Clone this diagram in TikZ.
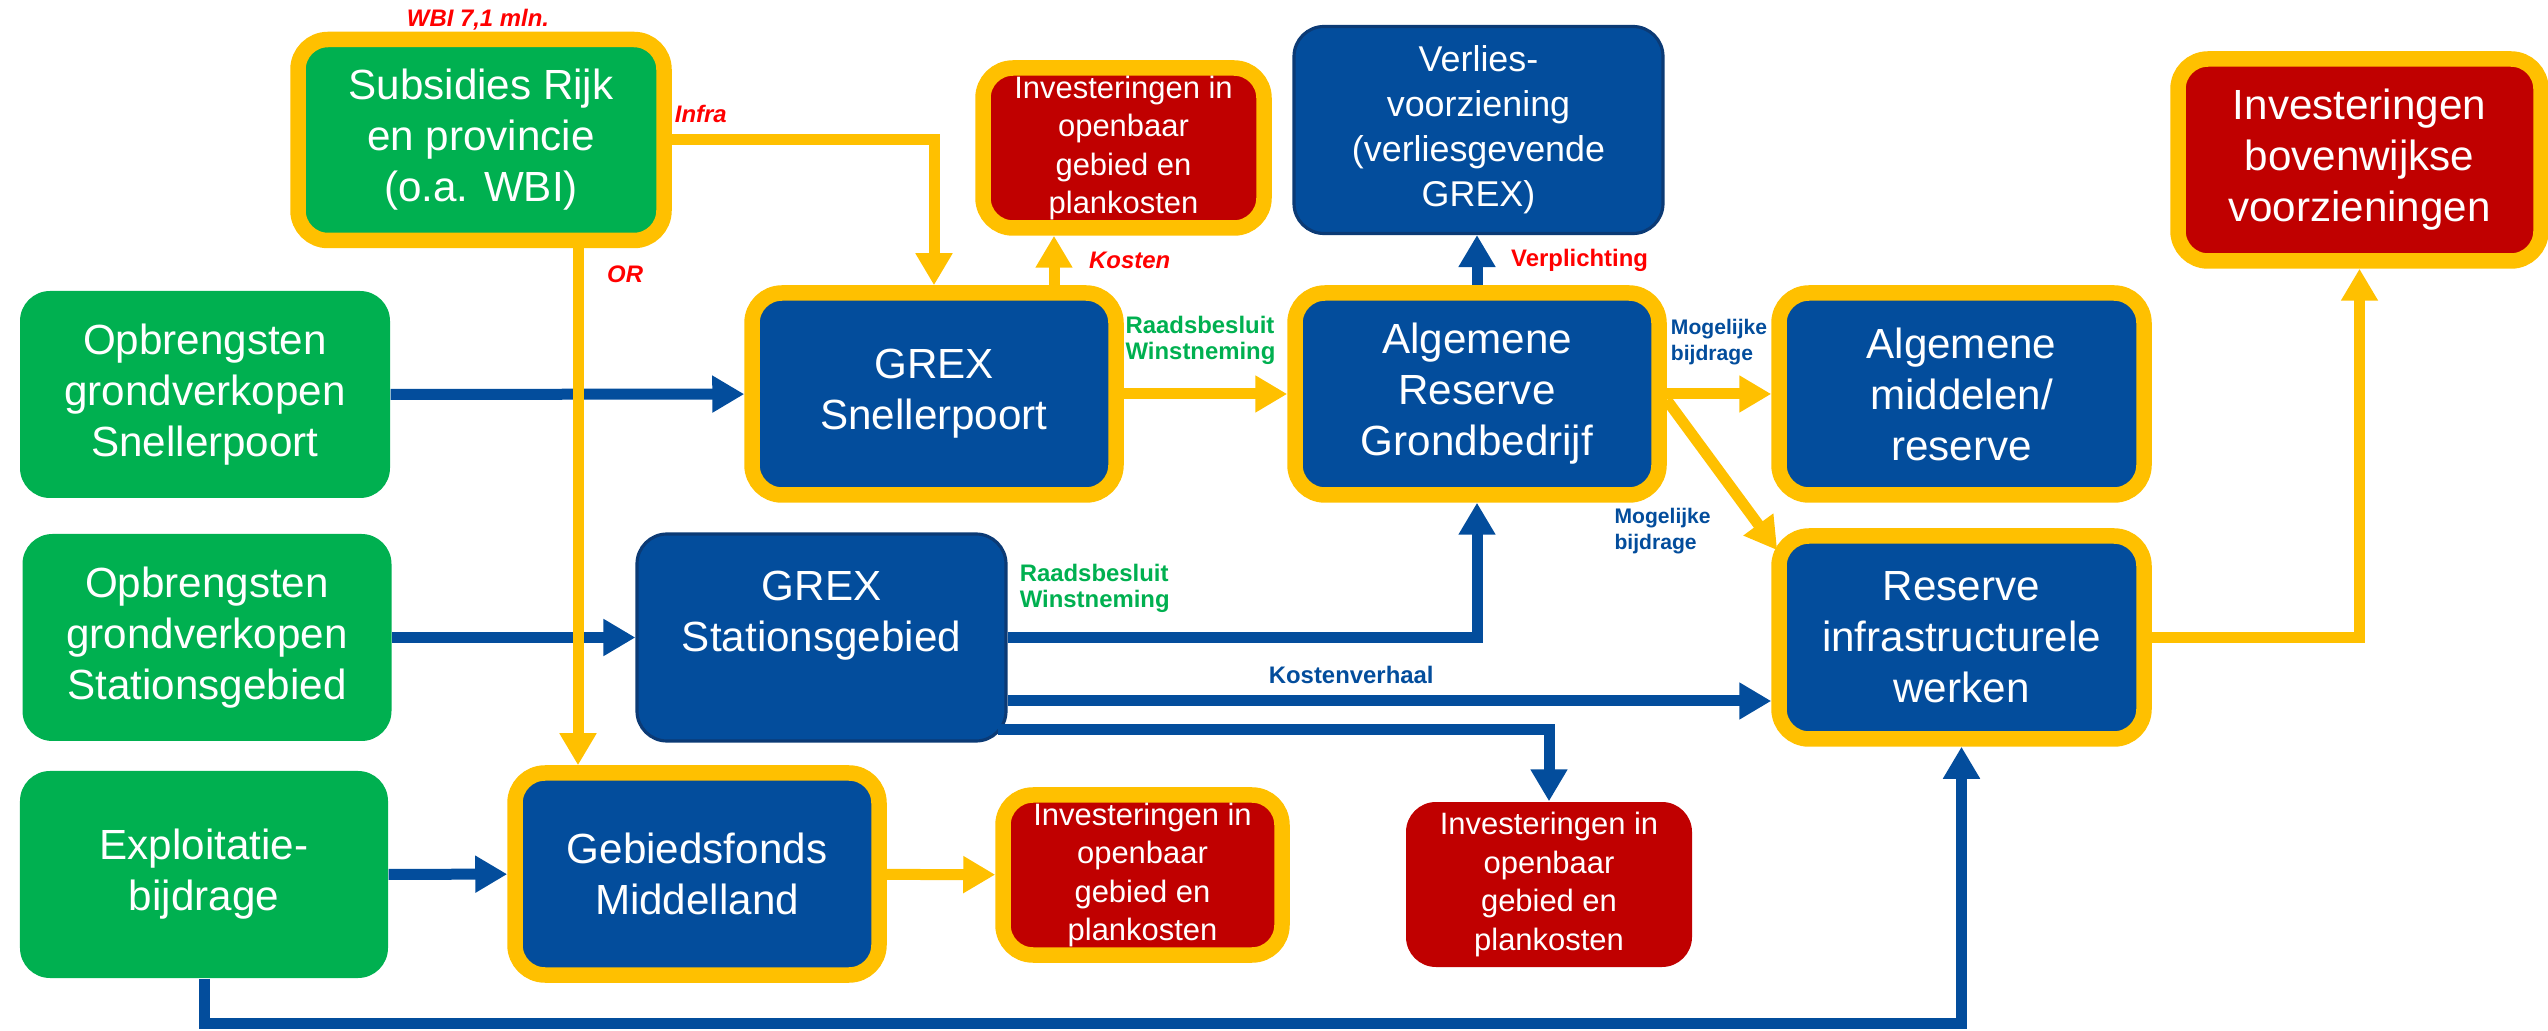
\documentclass[tikz,border=0pt]{standalone}
\usepackage{fontspec}
\setmainfont{Liberation Sans}
\usetikzlibrary{arrows.meta}
\usetikzlibrary{positioning}

\definecolor{ppgreen}{HTML}{00B050}
\definecolor{ppblue}{HTML}{034D9C}
\definecolor{ppdark}{HTML}{0B3A75}
\definecolor{ppyellow}{HTML}{FFC000}
\definecolor{ppred}{HTML}{C00000}
\definecolor{lblred}{HTML}{FF0000}

\begin{document}
\begin{tikzpicture}[
  >={Triangle[width = 0.35cm, length = 0.32cm]},
  box/.style = {rectangle, rounded corners = 0.3cm, inner sep = 0, align = center,
    text = white, font = \fontsize{12}{14.5}\selectfont},
  ringbox/.style = {box, draw = ppyellow, line width = 0.155cm},
  midtext/.style = {font = \fontsize{8.8}{11}\selectfont},
  yarr/.style = {->, draw = ppyellow, line width = 0.11cm},
  barr/.style = {->, draw = ppblue, line width = 0.11cm},
  lbl/.style = {font = \fontsize{6.8}{7.4}\selectfont\bfseries, align = center},
  lbli/.style = {lbl, font = \fontsize{6.8}{7.4}\selectfont\bfseries\itshape,
    text = lblred},
  moglbl/.style = {font = \fontsize{6}{7.4}\selectfont\bfseries, align = left,
    text = ppblue},
  ]
  \useasboundingbox (0, 0) rectangle (25.48, 10.3);

  % sources
  \node[ringbox, fill = ppgreen, minimum width = 3.66cm, minimum height = 2.01cm]
    (subs) at (4.81, 8.9) {Subsidies Rijk\\en provincie\\(o.a. WBI)};
  \node[box, fill = ppgreen, minimum width = 3.7cm, minimum height = 2.07cm]
    (opsn) at (2.05, 6.355) {Opbrengsten\\grondverkopen\\Snellerpoort};
  \node[box, fill = ppgreen, minimum width = 3.69cm, minimum height = 2.07cm]
    (opst) at (2.07, 3.925) {Opbrengsten\\grondverkopen\\Stationsgebied};
  \node[box, fill = ppgreen, minimum width = 3.68cm, minimum height = 2.07cm]
    (expl) at (2.04, 1.555) {Exploitatie-\\bijdrage};
  \node[lbli] (wbi) at (4.78, 10.1) {WBI 7,1 mln.};

  % grex and funds
  \node[ringbox, fill = ppblue, minimum width = 3.64cm, minimum height = 2.02cm]
    (grexsn) at (9.34, 6.36) {GREX\\Snellerpoort};
  \node[box, fill = ppblue, draw = ppdark, line width = 0.9pt,
    minimum width = 3.69cm, minimum height = 2.07cm, text depth = 0.53cm]
    (grexst) at (8.215, 3.925) {GREX\\Stationsgebied};
  \node[ringbox, fill = ppblue, minimum width = 3.64cm, minimum height = 2.02cm]
    (gebf) at (6.97, 1.56) {Gebiedsfonds\\Middelland};
  \node[ringbox, fill = ppblue, minimum width = 3.64cm, minimum height = 2.02cm]
    (arg) at (14.77, 6.36) {Algemene\\Reserve\\Grondbedrijf};
  \node[box, fill = ppblue, draw = ppdark, line width = 0.9pt,
    minimum width = 3.69cm, minimum height = 2.07cm,
    font = \fontsize{10.2}{12.8}\selectfont]
    (verlies) at (14.785, 9.0) {Verlies-\\voorziening\\(verliesgevende\\GREX)};
  \node[ringbox, fill = ppblue, minimum width = 3.65cm, minimum height = 2.02cm]
    (amid) at (19.615, 6.36) {Algemene\\middelen/\\reserve};
  \node[ringbox, fill = ppblue, minimum width = 3.65cm, minimum height = 2.03cm]
    (rinfra) at (19.615, 3.925) {Reserve\\infrastructurele\\werken};

  % investments
  \node[ringbox, midtext, fill = ppred, minimum width = 2.81cm,
    minimum height = 1.6cm] (invtop) at (11.235, 8.82)
    {Investeringen in\\openbaar\\gebied en\\plankosten};
  \node[ringbox, midtext, fill = ppred, minimum width = 2.79cm,
    minimum height = 1.6cm] (invgeb) at (11.425, 1.55)
    {Investeringen in\\openbaar\\gebied en\\plankosten};
  \node[box, midtext, fill = ppred, minimum width = 2.86cm,
    minimum height = 1.65cm] (invlow) at (15.49, 1.455)
    {Investeringen in\\openbaar\\gebied en\\plankosten};
  \node[ringbox, fill = ppred, minimum width = 3.63cm, minimum height = 2.02cm]
    (bovw) at (23.595, 8.7) {Investeringen\\bovenwijkse\\voorzieningen};

  \coordinate (or) at ([xshift = 0.97cm]subs.south);
  \coordinate (ko) at ([xshift = 1.2cm]grexsn.north);
  \coordinate (kv) at ([yshift = -0.635cm]grexst.east);
  \coordinate (iv) at ([xshift = -0.1cm, yshift = -0.925cm]grexst.east);
  \coordinate (loop) at (0, 0.07);

  % blue flows
  \draw[barr] (opsn) -- (grexsn);
  \draw[barr] (opst) -- (grexst);
  \draw[barr] (expl) -- (gebf);
  \draw[barr] (arg.north) -- (arg.north |- verlies.south)
    node[midway, right = 0.17cm, lbl, text = lblred] (verpl) {Verplichting};
  \draw[barr] (grexst.east) -| (arg.south)
    node[pos = 0, above right = 0.08cm and -0.05cm, lbl, text = ppgreen,
    align = left] (rw2) {Raadsbesluit\\Winstneming};
  \draw[barr] (kv) -- (kv -| rinfra.west)
    node[pos = 0.45, above = 0cm, lbl, text = ppblue] (kvl) {Kostenverhaal};
  \draw[barr] (iv) -| (invlow.north);
  \draw[barr] (expl.south) -- (expl.south |- loop) -| (rinfra.south);

  % yellow flows
  \draw[yarr] (subs.east) -| (grexsn.north)
    node[pos = 0, above right = 0cm and -0.14cm, lbli] (infra) {Infra};
  \draw[yarr] (or) -- (or |- gebf.north)
    node[pos = 0.05, right = 0.12cm, lbli] (orl) {OR};
  \draw[yarr] (ko) -- (ko |- invtop.south)
    node[midway, right = 0.18cm, lbli] (kos) {Kosten};
  \draw[yarr] (grexsn) -- (arg)
    node[midway, above = 0.12cm, xshift = -0.05cm, lbl, text = ppgreen,
    align = left] (rw1) {Raadsbesluit\\Winstneming};
  \draw[yarr] (arg) -- (amid)
    node[midway, above = 0.12cm, moglbl] (mog1) {Mogelijke\\bijdrage};
  \draw[yarr] ([yshift = -0.06cm]arg.east) --
    ([shift = {(0.06, -0.22)}]rinfra.north west)
    node[pos = 0.87, left = 0.35cm, moglbl] (mog2) {Mogelijke\\bijdrage};
  \draw[yarr] (gebf) -- (invgeb);
  \draw[yarr] (rinfra.east) -| (bovw.south);
\end{tikzpicture}
\end{document}
